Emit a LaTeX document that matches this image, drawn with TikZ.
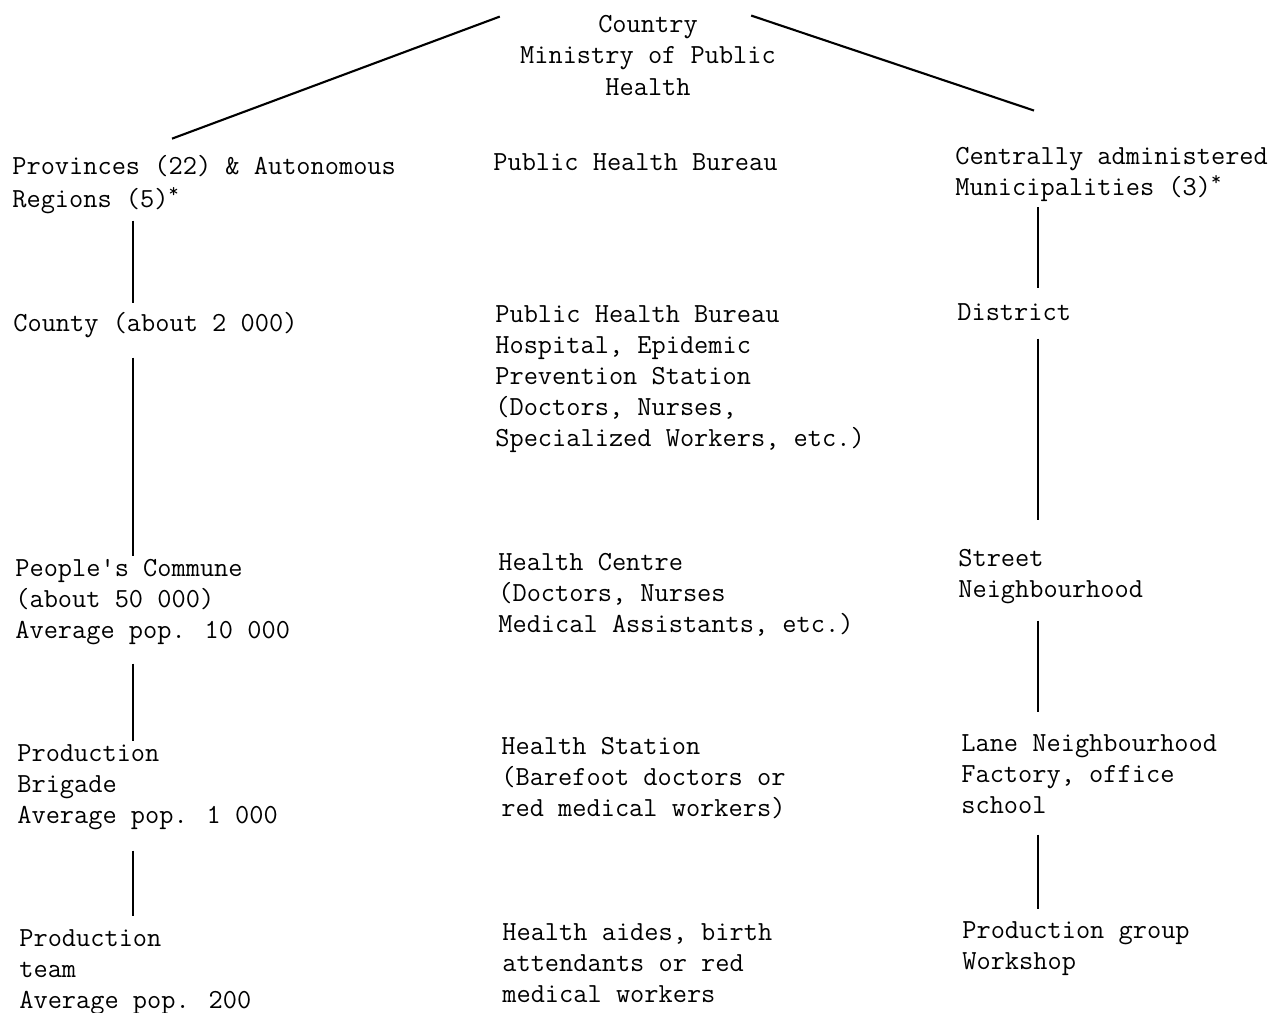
\documentclass[tikz,border=0pt]{standalone}
\usetikzlibrary{calc}
\newcommand{\typewr}{\ttfamily\fontsize{15.7pt}{17.6pt}\selectfont}
\begin{document}
\begin{tikzpicture}[
    x=0.02cm, y=-0.02cm,
    lbl/.style={anchor=base west, align=left, inner sep=0pt, font=\typewr},
    link/.style={draw, line width=0.9pt},
    slant/.style={draw, line width=1.2pt},
    gap/.style 2 args={shorten <=#1*0.02cm, shorten >=#2*0.02cm}
    ]
\useasboundingbox (0,0) rectangle (1273,1012);

% multi-line nodes sit on the baseline of their last line
\node[lbl, anchor=base, align=center, font={\ttfamily\fontsize{15.7pt}{17.9pt}\selectfont}] (country) at (648,95) {Country\\Ministry of Public\\Health};

\node[lbl, font={\ttfamily\fontsize{15.7pt}{18.7pt}\selectfont}] (prov) at (12,207) {Provinces (22) \& Autonomous\\Regions (5)\textsuperscript{*}};
\node[lbl] (phb) at (493,170) {Public Health Bureau};
\node[lbl] (cent) at (955,195) {Centrally administered\\Municipalities (3)\textsuperscript{*}};

\node[lbl] (county) at (13,331) {County (about 2 000)};
\node[lbl] (hosp) at (495,446) {Public Health Bureau\\Hospital, Epidemic\\Prevention Station\\(Doctors, Nurses,\\Specialized Workers, etc.)};
\node[lbl] (district) at (957,320) {District};

\node[lbl] (commune) at (15,638) {People's Commune\\(about 50 000)\\Average pop. 10 000};
\node[lbl] (hcentre) at (498,632) {Health Centre\\(Doctors, Nurses\\Medical Assistants, etc.)};
\node[lbl] (street) at (958,597) {Street\\Neighbourhood};

\node[lbl] (brigade) at (17,823) {Production\\Brigade\\Average pop. 1 000};
\node[lbl] (hstation) at (501,816) {Health Station\\(Barefoot doctors or\\red medical workers)};
\node[lbl] (lane) at (961,813) {Lane Neighbourhood\\Factory, office\\school};

\node[lbl] (team) at (19,1008) {Production\\team\\Average pop. 200};
\node[lbl] (aides) at (502,1002) {Health aides, birth\\attendants or red\\medical workers};
\node[lbl] (group) at (962,969) {Production group\\Workshop};

\coordinate (colL) at (133,0);
\coordinate (colR) at (1038,0);

\draw[slant] ($(prov.north west)+(160,-16)$) -- ($(country.north west)+(-20,2)$);
\draw[slant] ($(country.north east)+(-25,1)$) -- ($(cent.north west)+(79,-36)$);

\draw[link, gap={7}{9}] (prov.south -| colL) -- (county.north -| colL);
\draw[link, gap={20}{3}] (county.south -| colL) -- (commune.north -| colL);
\draw[link, gap={19}{3}] (commune.south -| colL) -- (brigade.north -| colL);
\draw[link, gap={21}{13}] (brigade.south -| colL) -- (team.north -| colL);

\draw[link, gap={6}{15}] (cent.south -| colR) -- (district.north -| colR);
\draw[link, gap={18}{29}] (district.south -| colR) -- (street.north -| colR);
\draw[link, gap={17}{22}] (street.south -| colR) -- (lane.north -| colR);
\draw[link, gap={21}{12}] (lane.south -| colR) -- (group.north -| colR);
\end{tikzpicture}
\end{document}
